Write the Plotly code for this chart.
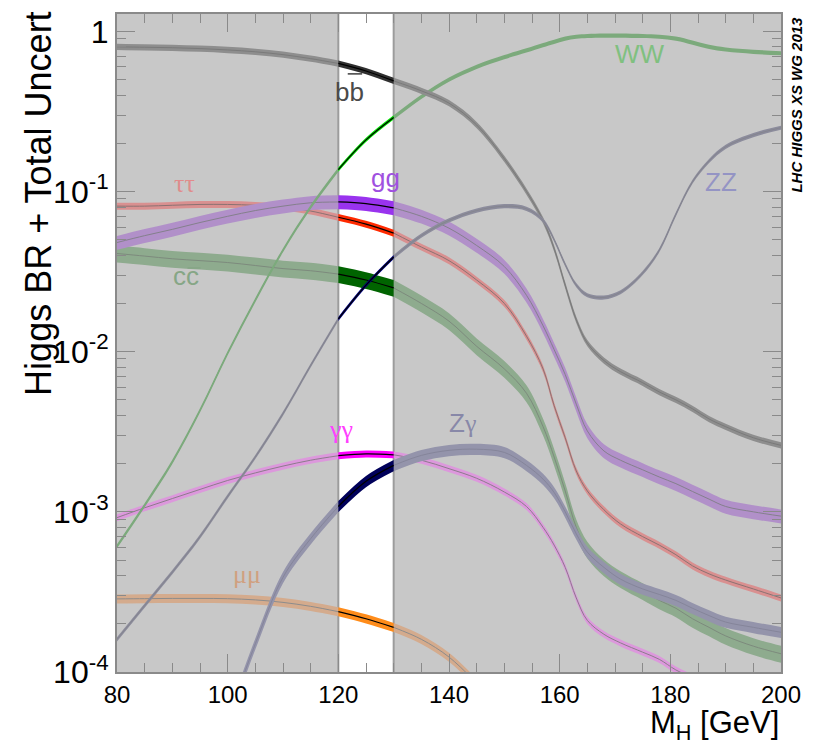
import plotly.graph_objects as go

# Higgs mass grid [GeV]
mass = [80, 85, 90, 95, 100, 105, 110, 115, 120, 125, 130, 135, 140, 145, 150,
        154, 157, 159, 161, 163, 165, 168, 171, 175, 178, 181, 184, 187, 190, 195, 200]

# Branching ratios (central values) per decay channel
br_bb = [0.80, 0.795, 0.79, 0.78, 0.765, 0.745, 0.715, 0.675, 0.63, 0.565, 0.49, 0.425, 0.356, 0.26, 0.16,
         0.10, 0.066, 0.044, 0.026, 0.0158, 0.0113, 0.0088, 0.0075, 0.0064, 0.0056, 0.0050, 0.0044, 0.0038,
         0.0034, 0.0029, 0.0026]
br_ww = [6.1e-4, 1.1e-3, 2.05e-3, 4.3e-3, 9.8e-3, 0.021, 0.043, 0.080, 0.137, 0.21, 0.29, 0.39, 0.50, 0.60,
         0.69, 0.76, 0.82, 0.86, 0.90, 0.925, 0.935, 0.94, 0.94, 0.935, 0.925, 0.90, 0.85, 0.80, 0.77, 0.745, 0.73]
br_zz = [1.6e-4, 2.6e-4, 4.2e-4, 7.0e-4, 1.25e-3, 2.2e-3, 4.1e-3, 8.2e-3, 0.016, 0.026, 0.039, 0.053, 0.066,
         0.076, 0.081, 0.078, 0.066, 0.050, 0.035, 0.026, 0.0225, 0.0218, 0.0235, 0.031, 0.043, 0.072, 0.115,
         0.155, 0.19, 0.225, 0.25]
br_gg = [0.048, 0.053, 0.058, 0.064, 0.070, 0.076, 0.081, 0.085, 0.086, 0.084, 0.079, 0.070, 0.059, 0.046,
         0.034, 0.0225, 0.0145, 0.0103, 0.0072, 0.0047, 0.0032, 0.0024, 0.0021, 0.00183, 0.00165, 0.0015,
         0.00134, 0.0012, 0.00108, 0.0010, 9.4e-4]
br_tautau = [0.081, 0.081, 0.082, 0.083, 0.083, 0.082, 0.080, 0.0755, 0.069, 0.0625, 0.055, 0.045, 0.037,
             0.028, 0.020, 0.0125, 0.0078, 0.0046, 0.0029, 0.0018, 0.00135, 0.00103, 8.4e-4, 7.0e-4, 6.2e-4,
             5.4e-4, 4.6e-4, 4.1e-4, 3.75e-4, 3.3e-4, 2.9e-4]
br_cc = [0.041, 0.0395, 0.038, 0.037, 0.036, 0.0345, 0.033, 0.032, 0.0305, 0.028, 0.025, 0.020, 0.0155,
         0.0108, 0.0078, 0.0055, 0.0034, 0.0022, 0.00135, 8.0e-4, 5.8e-4, 4.5e-4, 3.8e-4, 3.2e-4, 2.8e-4,
         2.5e-4, 2.15e-4, 1.9e-4, 1.68e-4, 1.45e-4, 1.3e-4]
br_gamgam = [9.2e-4, 1.06e-3, 1.21e-3, 1.38e-3, 1.57e-3, 1.75e-3, 1.93e-3, 2.1e-3, 2.24e-3, 2.3e-3, 2.27e-3,
             2.1e-3, 1.86e-3, 1.62e-3, 1.33e-3, 1.08e-3, 8.0e-4, 6.2e-4, 4.5e-4, 2.9e-4, 2.1e-4, 1.72e-4,
             1.52e-4, 1.33e-4, 1.2e-4, 1.03e-4, 9.2e-5, None, None, None, None]
br_zgam = [None, None, None, None, 5.0e-5, 1.5e-4, 3.9e-4, 6.8e-4, 1.08e-3, 1.55e-3, 1.95e-3, 2.25e-3,
           2.42e-3, 2.46e-3, 2.35e-3, 1.95e-3, 1.6e-3, 1.32e-3, 1.0e-3, 7.3e-4, 5.6e-4, 4.5e-4, 3.8e-4,
           3.3e-4, 3.05e-4, 2.8e-4, 2.5e-4, 2.25e-4, 2.05e-4, 1.9e-4, 1.77e-4]
br_mumu = [2.86e-4, 2.87e-4, 2.88e-4, 2.88e-4, 2.87e-4, 2.82e-4, 2.72e-4, 2.57e-4, 2.38e-4, 2.15e-4, 1.9e-4,
           1.6e-4, 1.24e-4, 8.5e-5, None, None, None, None, None, None, None, None, None, None, None, None,
           None, None, None, None, None]

# Relative total uncertainties (half-width of the band)
unc_bb = 0.045
unc_ww = 0.03
unc_zz = 0.03
unc_gg = 0.10
unc_tautau = 0.05
unc_cc = 0.12
unc_gamgam = 0.05
unc_zgam = 0.08
unc_mumu = 0.065

# Mass window highlighted in white
window = (120, 130)

# channel: values, uncertainty, outside band colour, outside line colour, window band colour
channels = [
    ("mumu", br_mumu, unc_mumu, "#d4ab8d", "#8c8c8c", "#ff8c1a"),
    ("gamgam", br_gamgam, unc_gamgam, "#dc98dc", "#8c7c8c", "#ff00ff"),
    ("cc", br_cc, unc_cc, "#8eab8e", "#7d8a7d", "#006400"),
    ("tautau", br_tautau, unc_tautau, "#d99090", "#8a7272", "#ff2a00"),
    ("gg", br_gg, unc_gg, "#b190c9", "#84808c", "#9933ee"),
    ("WW", br_ww, unc_ww, "#7caa7c", "#7caa7c", "#00e000"),
    ("bb", br_bb, unc_bb, "#8e8e8e", "#7a7a7a", "#303030"),
    ("ZZ", br_zz, unc_zz, "#8c8c9c", "#85858f", "#000080"),
    ("Zgam", br_zgam, unc_zgam, "#9494ab", "#85859a", "#00005a"),
]


def segments(xs, ys):
    pts = [(x, y) for x, y in zip(xs, ys) if y is not None]
    lo, hi = window
    left = [p for p in pts if p[0] <= lo]
    mid = [p for p in pts if lo <= p[0] <= hi]
    right = [p for p in pts if p[0] >= hi]
    return left, mid, right


def add_band(fig, seg, unc, band_col, line_col, line_w):
    if len(seg) < 2:
        return
    xs = [p[0] for p in seg]
    ys = [p[1] for p in seg]
    lower = [y * (1 - unc) for y in ys]
    upper = [y * (1 + unc) for y in ys]
    fig.add_trace(go.Scatter(x=xs, y=lower, mode="lines",
                             line=dict(width=0, shape="spline", color=band_col),
                             hoverinfo="skip", showlegend=False))
    fig.add_trace(go.Scatter(x=xs, y=upper, mode="lines", fill="tonexty",
                             fillcolor=band_col,
                             line=dict(width=0, shape="spline", color=band_col),
                             hoverinfo="skip", showlegend=False))
    fig.add_trace(go.Scatter(x=xs, y=ys, mode="lines",
                             line=dict(width=line_w, shape="spline", color=line_col),
                             hoverinfo="skip", showlegend=False))


fig = go.Figure()

# curves outside the highlighted window
for name, vals, unc, out_col, out_line, _ in channels:
    left, _mid, right = segments(mass, vals)
    add_band(fig, left, unc, out_col, out_line, 1)
    add_band(fig, right, unc, out_col, out_line, 1)

# curves inside the highlighted window
for name, vals, unc, _o, _l, win_col in channels:
    _left, mid, _right = segments(mass, vals)
    add_band(fig, mid, unc, win_col, "#000000", 1.2)

grey_frame = "#8a8a8a"

shapes = [
    dict(type="rect", xref="x", yref="paper", x0=window[0], x1=window[1], y0=0, y1=1,
         fillcolor="white", line=dict(width=0), layer="below"),
    dict(type="line", xref="x", yref="paper", x0=window[0], x1=window[0], y0=0, y1=1,
         line=dict(color="#9c9c9c", width=2), layer="below"),
    dict(type="line", xref="x", yref="paper", x0=window[1], x1=window[1], y0=0, y1=1,
         line=dict(color="#9c9c9c", width=2), layer="below"),
    # anti-quark bars over the second letter of the b-bbar and c-cbar labels
    dict(type="line", xref="x", yref="paper", x0=121.7, x1=124.3, y0=0.909, y1=0.909,
         line=dict(color="#4a4a4a", width=1.6), layer="above"),
    dict(type="line", xref="x", yref="paper", x0=92.75, x1=95.1, y0=0.614, y1=0.614,
         line=dict(color="#86a686", width=1.6), layer="above"),
]

serif = "Liberation Serif"
sans = "Liberation Sans"
label_size = 26


def label(text, x, y, color, family=sans):
    return dict(text=text, x=x, y=y, xref="x", yref="y", showarrow=False,
                font=dict(family=family, size=label_size, color=color),
                xanchor="center", yanchor="middle")


annotations = [
    label("bb", 122.0, -0.378, "#4a4a4a"),
    label("\u03c4\u03c4", 92.2, -0.950, "#e08c8c", serif),
    label("gg", 128.6, -0.915, "#a050e0"),
    label("cc", 92.5, -1.530, "#86a686"),
    label("WW", 174.6, -0.139, "#80c080"),
    label("ZZ", 189.2, -0.938, "#9494c4"),
    label("\u03b3\u03b3", 120.5, -2.483, "#ff40ff", serif),
    label("Z<span style='font-family:Liberation Serif'>\u03b3</span>", 142.5, -2.445, "#8888a8"),
    label("\u03bc\u03bc", 103.5, -3.392, "#d0a080", serif),
    # axis titles
    dict(text="Higgs BR + Total Uncert", xref="paper", yref="paper", x=-0.118, y=1.008,
         xanchor="center", yanchor="top", textangle=-90, showarrow=False,
         font=dict(family=sans, size=36, color="black")),
    dict(text="M<sub>H</sub> [GeV]", xref="paper", yref="paper", x=1.0, y=-0.081,
         xanchor="right", yanchor="middle", showarrow=False,
         font=dict(family=sans, size=31, color="black")),
    dict(text="<b><i>LHC HIGGS XS WG 2013</i></b>", xref="paper", yref="paper", x=1.024, y=0.999,
         xanchor="center", yanchor="top", textangle=-90, showarrow=False,
         font=dict(family=sans, size=15, color="black")),
]

y_major = [1e-4, 1e-3, 1e-2, 1e-1, 1]
y_labels = ["10<sup>-4</sup>", "10<sup>-3</sup>", "10<sup>-2</sup>", "10<sup>-1</sup>", "1"]
y_minor = [m * 10 ** e for e in range(-4, 1) for m in range(2, 10)]

x_major = [80, 100, 120, 140, 160, 180, 200]

fig.update_layout(
    width=813, height=747,
    margin=dict(l=117, r=24, t=12, b=75),
    paper_bgcolor="white",
    plot_bgcolor="#c8c8c8",
    font=dict(family=sans, color="black"),
    shapes=shapes,
    annotations=annotations,
    showlegend=False,
    xaxis=dict(
        range=[80, 200], tickmode="array", tickvals=x_major,
        ticks="inside", ticklen=18, tickwidth=1, tickcolor=grey_frame,
        minor=dict(tickmode="linear", tick0=80, dtick=5, ticks="inside", ticklen=9,
                   tickcolor=grey_frame, showgrid=False),
        showline=True, linecolor=grey_frame, linewidth=2, mirror="allticks",
        showgrid=False, zeroline=False,
        tickfont=dict(size=24, family=sans, color="black"),
    ),
    yaxis=dict(
        type="log", range=[-4, 0.108], tickmode="array", tickvals=y_major, ticktext=y_labels,
        ticks="inside", ticklen=18, tickwidth=1, tickcolor=grey_frame,
        minor=dict(tickmode="array", tickvals=y_minor, ticks="inside", ticklen=9,
                   tickcolor=grey_frame, showgrid=False),
        showline=True, linecolor=grey_frame, linewidth=2, mirror="allticks",
        showgrid=False, zeroline=False,
        tickfont=dict(size=32, family=sans, color="black"),
    ),
)

fig.write_html("out.html")
